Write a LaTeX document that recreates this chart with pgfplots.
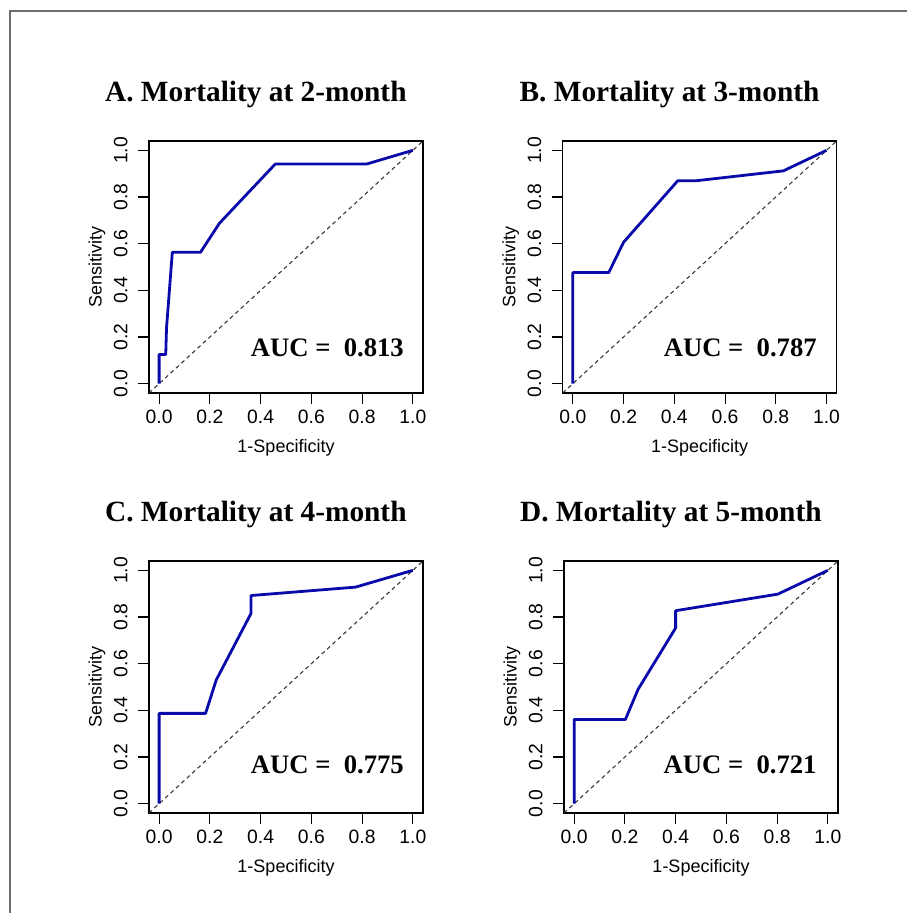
\documentclass[border=0pt]{standalone}
\usepackage{fontspec}
\setmainfont{Liberation Serif}
\setsansfont{Liberation Sans}
\usepackage{pgfplots}
\pgfplotsset{compat=1.18}
\definecolor{roc}{RGB}{10,10,170}
\definecolor{frame}{RGB}{110,110,110}

\pgfplotsset{
  rocpanel/.style={
    scale only axis, width=205.5pt, height=189pt,
    anchor=south west,
    xmin=-0.04, xmax=1.04, ymin=-0.04, ymax=1.04,
    xtick={0,0.2,0.4,0.6,0.8,1}, ytick={0,0.2,0.4,0.6,0.8,1},
    tick pos=left, tick align=outside,
    major tick length=8pt,
    tick style={black, line width=0.8pt},
    axis line style={black, line width=0.9pt},
    /pgf/number format/.cd, fixed, fixed zerofill, precision=1, assume math mode=true,
    /pgfplots/.cd,
    ticklabel style={font=\sffamily\fontsize{14.5}{17}\selectfont},
    yticklabel style={rotate=90, anchor=south},
    yticklabel shift=4.5pt,
    xticklabel shift=1.5pt,
    xlabel={1-Specificity}, ylabel={Sensitivity},
    label style={font=\sffamily\fontsize{13.5}{16}\selectfont},
    xlabel style={at={(axis description cs:0.5,-0.218)}, anchor=center},
    ylabel style={at={(axis description cs:-0.19,0.5)}, anchor=center, rotate=0},
    title style={at={(axis description cs:0.39,1)}, anchor=south, yshift=15.5pt,
      font=\bfseries\fontsize{22}{26}\selectfont},
    clip=true,
  },
  roccurve/.style={roc, line width=2.1pt, line join=round, no marks},
  diag/.style={black!80, line width=0.8pt, dash pattern=on 3pt off 2.5pt, no marks},
}
\newcommand{\auc}[1]{\bfseries\fontsize{20}{22}\selectfont AUC =\ \ #1}

\begin{document}
\begin{tikzpicture}
  \path[use as bounding box] (0,0) rectangle (680.25pt,684.75pt);
  \draw[frame, line width=1.1pt] (7.5pt,0) -- (7.5pt,676.5pt) -- (680.25pt,676.5pt);

  % A
  \begin{axis}[rocpanel, at={(111.75pt,390pt)}, title={A. Mortality at 2-month}]
    \addplot[diag] coordinates {(-0.04,-0.04)(1.04,1.04)};
    \addplot[roccurve] coordinates {
      (0,0)(0,0.125)(0.026,0.125)(0.029,0.238)(0.052,0.563)(0.163,0.563)
      (0.238,0.688)(0.4575,0.941)(0.817,0.941)(1,1)};
    \node at (axis cs:0.663,0.154) {\auc{0.813}};
  \end{axis}

  % B
  \begin{axis}[rocpanel, at={(422pt,390pt)}, title={B. Mortality at 3-month}]
    \addplot[diag] coordinates {(-0.04,-0.04)(1.04,1.04)};
    \addplot[roccurve] coordinates {
      (0,0)(0,0.476)(0.1415,0.476)(0.2,0.606)(0.414,0.870)(0.489,0.870)
      (0.830,0.912)(1,1)};
    \node at (axis cs:0.660,0.154) {\auc{0.787}};
  \end{axis}

  % C
  \begin{axis}[rocpanel, at={(111.75pt,75pt)}, title={C. Mortality at 4-month}]
    \addplot[diag] coordinates {(-0.04,-0.04)(1.04,1.04)};
    \addplot[roccurve] coordinates {
      (0,0)(0,0.387)(0.183,0.387)(0.225,0.53)(0.362,0.815)(0.362,0.892)
      (0.774,0.928)(1,1)};
    \node at (axis cs:0.663,0.166) {\auc{0.775}};
  \end{axis}

  % D
  \begin{axis}[rocpanel, at={(423pt,75pt)}, title={D. Mortality at 5-month}]
    \addplot[diag] coordinates {(-0.04,-0.04)(1.04,1.04)};
    \addplot[roccurve] coordinates {
      (0,0)(0,0.361)(0.202,0.361)(0.252,0.49)(0.400,0.753)(0.400,0.827)
      (0.803,0.898)(1,1)};
    \node at (axis cs:0.654,0.166) {\auc{0.721}};
  \end{axis}
\end{tikzpicture}
\end{document}
